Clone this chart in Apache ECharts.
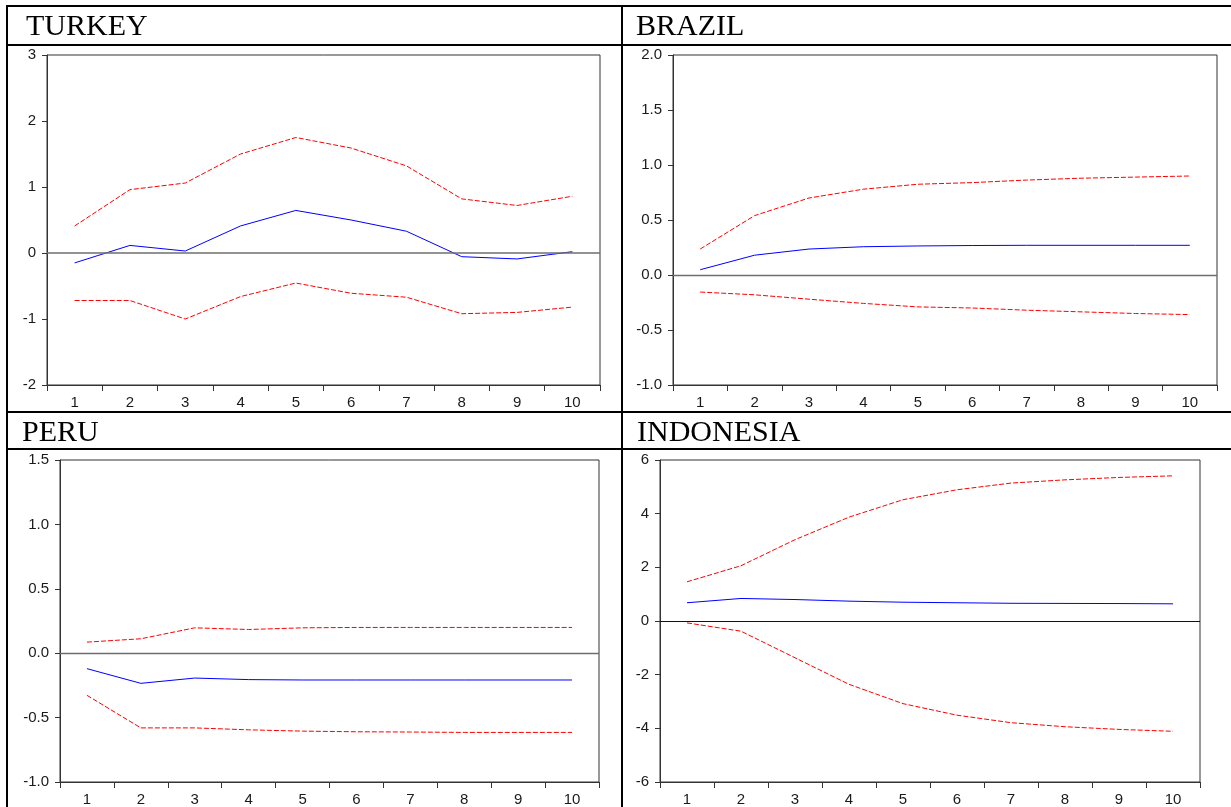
<!DOCTYPE html>
<html><head><meta charset="utf-8">
<script src="https://cdn.jsdelivr.net/npm/echarts@6/dist/echarts.min.js"></script>
<style>html,body{margin:0;padding:0;background:#fff;overflow:hidden}#c{width:1231px;height:807px}</style>
</head><body><div id="c"></div>
<script>
// ---- data ----
const periods = ['1','2','3','4','5','6','7','8','9','10'];
const countryNames = ['TURKEY','BRAZIL','PERU','INDONESIA'];

const turkeyResponse = [-0.15, 0.115, 0.03, 0.41, 0.645, 0.50, 0.33, -0.056, -0.09, 0.02];
const turkeyUpper    = [0.41, 0.96, 1.06, 1.50, 1.75, 1.59, 1.32, 0.82, 0.72, 0.86];
const turkeyLower    = [-0.72, -0.72, -1.00, -0.66, -0.455, -0.61, -0.67, -0.92, -0.90, -0.82];

const brazilResponse = [0.048, 0.18, 0.236, 0.257, 0.264, 0.268, 0.27, 0.27, 0.27, 0.27];
const brazilUpper    = [0.236, 0.54, 0.70, 0.78, 0.825, 0.84, 0.863, 0.88, 0.89, 0.90];
const brazilLower    = [-0.155, -0.18, -0.22, -0.258, -0.29, -0.30, -0.32, -0.335, -0.35, -0.36];

const peruResponse = [-0.12, -0.234, -0.193, -0.205, -0.208, -0.208, -0.208, -0.208, -0.208, -0.208];
const peruUpper    = [0.086, 0.112, 0.197, 0.184, 0.197, 0.20, 0.20, 0.20, 0.20, 0.20];
const peruLower    = [-0.327, -0.58, -0.58, -0.595, -0.605, -0.61, -0.612, -0.615, -0.615, -0.615];

const indonesiaResponse = [0.68, 0.84, 0.80, 0.74, 0.70, 0.68, 0.66, 0.655, 0.65, 0.64];
const indonesiaUpper    = [1.46, 2.06, 3.03, 3.87, 4.52, 4.89, 5.14, 5.26, 5.35, 5.41];
const indonesiaLower    = [-0.07, -0.38, -1.37, -2.36, -3.08, -3.51, -3.79, -3.94, -4.04, -4.11];

// y-axis tick ranges: [min, max, interval, decimals]
const turkeyTicks    = [-2, 3, 1, 0];
const brazilTicks    = [-1, 2, 0.5, 1];
const peruTicks      = [-1, 1.5, 0.5, 1];
const indonesiaTicks = [-6, 6, 2, 0];

// ---- build ----
const panels = [
  {name: countryNames[0], resp: turkeyResponse, up: turkeyUpper, lo: turkeyLower, ticks: turkeyTicks,
   grid: {left: 47, top: 55, width: 553, height: 330}, zero: {color: '#6e6e6e', width: 1.6},
   title: {x: 26, y: 12}},
  {name: countryNames[1], resp: brazilResponse, up: brazilUpper, lo: brazilLower, ticks: brazilTicks,
   grid: {left: 673, top: 55, width: 544, height: 330}, zero: {color: '#6e6e6e', width: 1.4},
   title: {x: 636, y: 12}},
  {name: countryNames[2], resp: peruResponse, up: peruUpper, lo: peruLower, ticks: peruTicks,
   grid: {left: 60, top: 460, width: 539, height: 323}, zero: {color: '#6e6e6e', width: 1.4},
   title: {x: 22, y: 418}},
  {name: countryNames[3], resp: indonesiaResponse, up: indonesiaUpper, lo: indonesiaLower, ticks: indonesiaTicks,
   grid: {left: 660, top: 460, width: 540, height: 323}, zero: {color: '#111', width: 1},
   title: {x: 637, y: 418}}
];

const labelFont = {fontFamily: 'Liberation Sans, Arial, sans-serif', fontSize: 15, color: '#1a1a1a'};
const axisCol = '#333';

const grids = [], xAxes = [], yAxes = [], series = [], graphics = [];
panels.forEach((p, i) => {
  grids.push(Object.assign({show: true, borderColor: axisCol, borderWidth: 1, backgroundColor: 'transparent', containLabel: false}, p.grid));
  xAxes.push({
    type: 'category', gridIndex: i, data: periods, boundaryGap: true,
    axisLine: {show: true, onZero: false, lineStyle: {color: axisCol, width: 1}},
    axisTick: {show: true, length: 6, lineStyle: {color: axisCol}, alignWithLabel: false},
    axisLabel: Object.assign({margin: 10, interval: 0}, labelFont),
    splitLine: {show: false}
  });
  const dec = p.ticks[3];
  yAxes.push({
    type: 'value', gridIndex: i, min: p.ticks[0], max: p.ticks[1], interval: p.ticks[2],
    axisLine: {show: true, onZero: false, lineStyle: {color: axisCol, width: 1}},
    axisTick: {show: true, length: 5, lineStyle: {color: axisCol}},
    axisLabel: Object.assign({margin: 11, formatter: v => v.toFixed(dec)}, labelFont),
    splitLine: {show: false}
  });
  const dashed = {color: '#ff0000', width: 1, type: [5, 2]};
  series.push({type: 'line', xAxisIndex: i, yAxisIndex: i, data: p.up, symbol: 'none', lineStyle: dashed, silent: true});
  series.push({type: 'line', xAxisIndex: i, yAxisIndex: i, data: p.lo, symbol: 'none', lineStyle: dashed, silent: true});
  series.push({type: 'line', xAxisIndex: i, yAxisIndex: i, data: p.resp, symbol: 'none', silent: true,
    lineStyle: {color: '#0000ff', width: 1},
    markLine: {silent: true, symbol: ['none', 'none'], label: {show: false},
      lineStyle: {color: p.zero.color, width: p.zero.width, type: 'solid'},
      emphasis: {disabled: true}, data: [{yAxis: 0}]}
  });
  graphics.push({type: 'text', x: p.title.x, y: p.title.y, z: 100,
    style: {text: p.name, font: '30px "Liberation Serif", "Times New Roman", serif', fill: '#000', verticalAlign: 'top'}});
});

// table rules
const hLines = [6, 45, 412, 449];
const vLines = [7, 622];
hLines.forEach(y => graphics.push({type: 'line', z: 100, shape: {x1: 6, y1: y, x2: 1231, y2: y}, style: {stroke: '#000', lineWidth: 2}}));
vLines.forEach(x => graphics.push({type: 'line', z: 100, shape: {x1: x, y1: 5, x2: x, y2: 807}, style: {stroke: '#000', lineWidth: 2}}));

const chart = echarts.init(document.getElementById('c'), null, {renderer: 'canvas'});
chart.setOption({
  animation: false,
  backgroundColor: '#fff',
  grid: grids, xAxis: xAxes, yAxis: yAxes, series: series, graphic: graphics
});
</script></body></html>
